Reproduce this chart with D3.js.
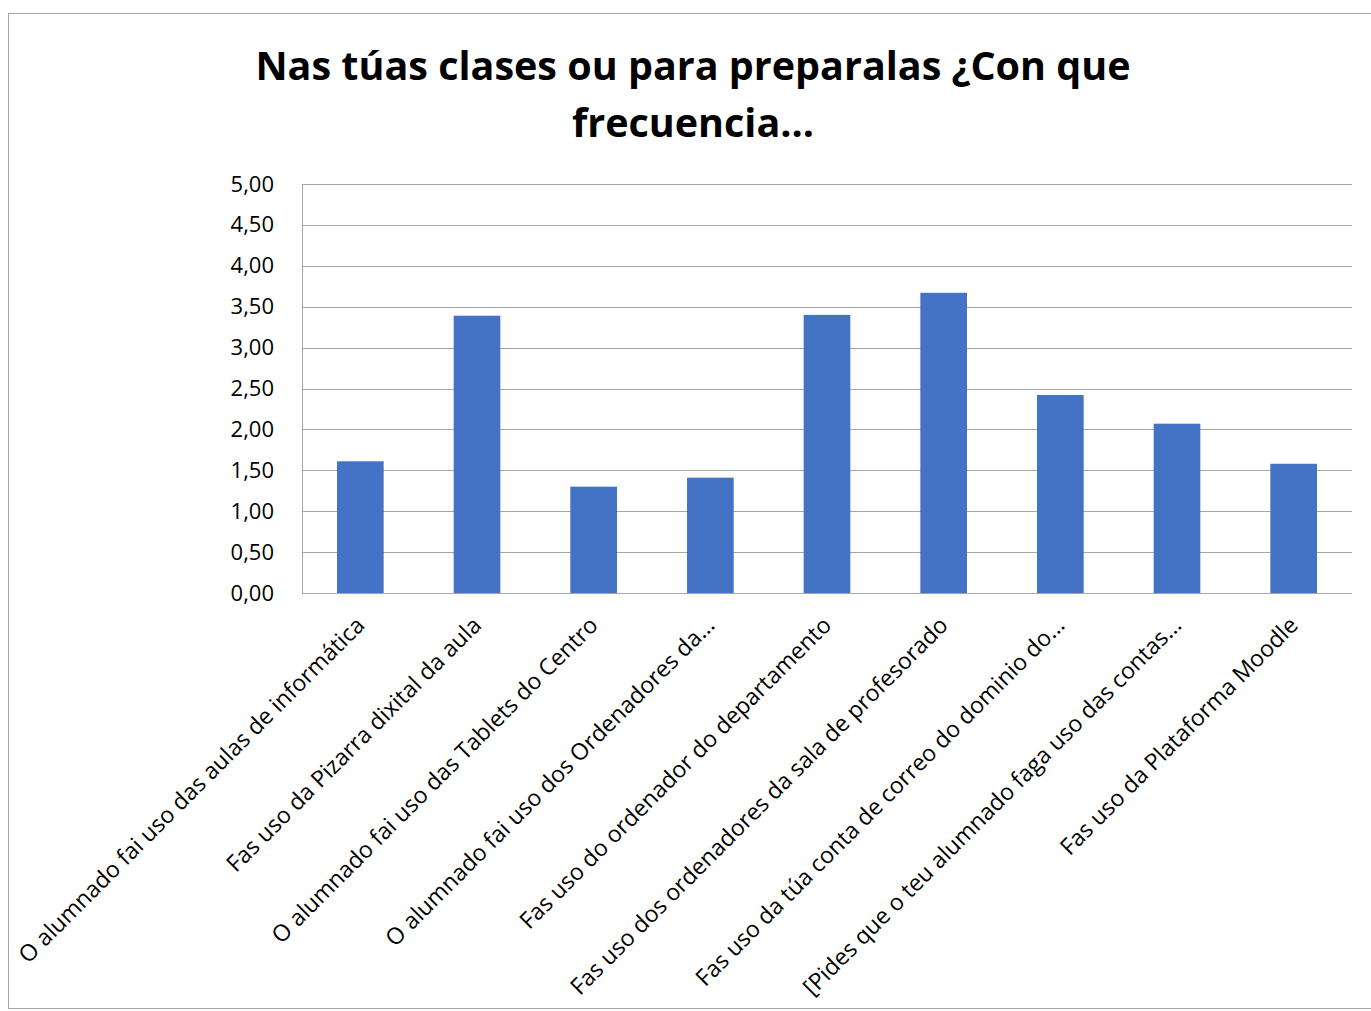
<!DOCTYPE html>
<html>
<head>
<meta charset="utf-8">
<script src="https://cdn.jsdelivr.net/npm/d3@7"></script>
<style>
  body { margin: 0; background: #fff; }
  svg { font-family: "Open Sans", sans-serif; }
</style>
</head>
<body>
<svg id="chart"></svg>
<script>
// data
var categories = [
  "O alumnado fai uso das aulas de informática",
  "Fas uso da Pizarra dixital da aula",
  "O alumnado fai uso das Tablets do Centro",
  "O alumnado fai uso dos Ordenadores da...",
  "Fas uso do ordenador do departamento",
  "Fas uso dos ordenadores da sala de profesorado",
  "Fas uso da túa conta de correo do dominio do...",
  "[Pides que o teu alumnado faga uso das contas...",
  "Fas uso da Plataforma Moodle"
];
var values = [1.61, 3.39, 1.30, 1.41, 3.40, 3.67, 2.42, 2.07, 1.58];
var yTicks = [0, 0.5, 1, 1.5, 2, 2.5, 3, 3.5, 4, 4.5, 5];
var titleLines = ["Nas túas clases ou para preparalas ¿Con que", "frecuencia..."];

var W = 1371, H = 1011;
var margin = {top: 184, right: 19, bottom: 418, left: 302},
    width = W - margin.left - margin.right,
    height = H - margin.top - margin.bottom;

var svg0 = d3.select("#chart").attr("width", W).attr("height", H);

// outer frame
svg0.append("rect")
    .attr("x", 8.5).attr("y", 13.5)
    .attr("width", W + 10).attr("height", 995)
    .attr("fill", "none").attr("stroke", "#a6a6a6").attr("stroke-width", 1);

var svg = svg0.append("g")
    .attr("transform", "translate(" + margin.left + "," + margin.top + ")");

var x = d3.scaleBand().domain(categories).range([0, width]).paddingInner(0.6).paddingOuter(0.3);
var y = d3.scaleLinear().domain([0, 5]).range([height, 0]);

var fmt = function(d) { return d3.format(".2f")(d).replace(".", ","); };

// gridlines
svg.append("g")
    .selectAll("line")
    .data(yTicks)
    .enter()
    .append("line")
    .attr("x1", 0).attr("x2", width)
    .attr("y1", function(d) { return Math.round(y(d)) + 0.5; })
    .attr("y2", function(d) { return Math.round(y(d)) + 0.5; })
    .attr("stroke", "#a6a6a6")
    .attr("stroke-width", 1.2);

// left axis line
svg.append("line")
    .attr("x1", 0.5).attr("x2", 0.5)
    .attr("y1", y(5)).attr("y2", y(0))
    .attr("stroke", "#a6a6a6");

// bars
svg.selectAll("rect.bar")
    .data(values)
    .enter()
    .append("rect")
    .attr("class", "bar")
    .attr("x", function(d, i) { return x(categories[i]); })
    .attr("y", function(d) { return y(d); })
    .attr("width", x.bandwidth())
    .attr("height", function(d) { return y(0) - y(d); })
    .attr("fill", "#4472c4");

// y axis labels
var yAxis = svg.append("g")
    .attr("transform", "translate(-25,0)")
    .call(d3.axisLeft(y).tickValues(yTicks).tickFormat(fmt).tickSize(0));
yAxis.select(".domain").remove();
yAxis.selectAll("text")
    .style("font-size", "22px")
    .style("font-family", "'Open Sans', sans-serif")
    .attr("fill", "#000");

// x axis labels
var xAxis = svg.append("g")
    .attr("transform", "translate(0," + height + ")")
    .call(d3.axisBottom(x).tickSize(0));
xAxis.select(".domain").remove();
xAxis.selectAll("text")
    .style("font-size", "23px")
    .style("font-family", "'Open Sans', sans-serif")
    .attr("fill", "#000")
    .attr("text-anchor", "end")
    .attr("dy", "0.35em")
    .attr("transform", "translate(0,28) rotate(-45)")
    .attr("y", 0);

// title
svg0.append("text")
    .attr("x", 693)
    .attr("text-anchor", "middle")
    .style("font-size", "39.5px")
    .style("font-weight", "bold")
    .selectAll("tspan")
    .data(titleLines)
    .enter()
    .append("tspan")
    .attr("x", 693)
    .attr("y", function(d, i) { return 80 + i * 57; })
    .text(function(d) { return d; });
</script>
</body>
</html>
